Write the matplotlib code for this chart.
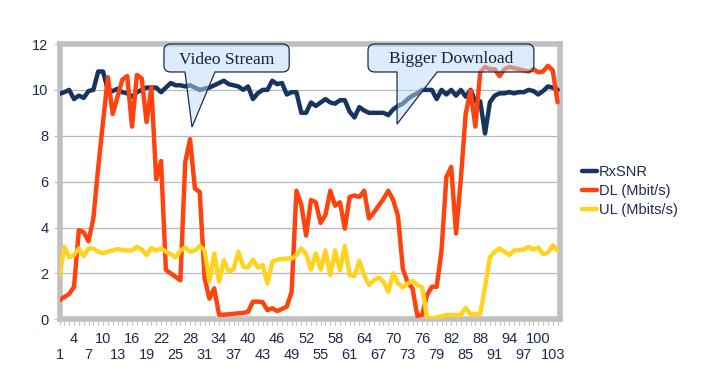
import matplotlib
matplotlib.use("Agg")
import matplotlib.pyplot as plt
from matplotlib.path import Path
from matplotlib.patches import PathPatch
from matplotlib.ticker import FixedLocator, FuncFormatter

# ---------------- data ----------------
categories = list(range(1, 105))
rxsnr = [
    9.83, 9.9, 10.0, 9.6, 9.75, 9.65, 9.95, 10.0, 10.8, 10.8,
    10.0, 9.95, 10.05, 9.9, 9.85, 9.7, 9.9, 10.0, 10.1, 10.1,
    10.1, 9.9, 10.1, 10.3, 10.2, 10.2, 10.15, 10.2, 10.1, 10.0,
    10.05, 10.1, 10.2, 10.3, 10.4, 10.25, 10.2, 10.15, 10.0, 10.15,
    9.6, 9.85, 10.0, 10.0, 10.4, 10.25, 10.3, 9.8, 9.9, 9.9,
    9.0, 9.0, 9.45, 9.3, 9.45, 9.6, 9.45, 9.4, 9.55, 9.55,
    9.05, 8.8, 9.25, 9.1, 9.0, 9.0, 9.0, 9.0, 8.9, 9.15,
    9.3, 9.4, 9.6, 9.75, 9.85, 10.0, 10.0, 10.0, 9.6, 10.0,
    9.8, 10.0, 9.75, 10.0, 9.7, 10.0, 9.5, 9.5, 8.1, 9.46,
    9.75, 9.85, 9.85, 9.9, 9.85, 9.9, 9.9, 10.0, 9.95, 9.8,
    9.95, 10.15, 10.1, 10.0,
]
dl = [
    0.84, 0.97, 1.1, 1.42, 3.88, 3.8, 3.4, 4.4, 6.6, 8.6,
    10.55, 8.95, 9.7, 10.45, 10.6, 8.4, 10.65, 10.5, 8.6, 10.1,
    6.1, 6.9, 2.15, 2.0, 1.85, 1.7, 6.85, 7.85, 5.7, 5.55,
    1.8, 0.9, 1.35, 0.2, 0.2, 0.22, 0.24, 0.26, 0.28, 0.33,
    0.77, 0.77, 0.75, 0.4, 0.48, 0.36, 0.45, 0.55, 1.2, 5.6,
    5.0, 3.65, 5.2, 5.1, 4.2, 4.55, 5.6, 4.95, 5.1, 3.95,
    5.33, 5.4, 5.33, 5.6, 4.4, 4.65, 4.95, 5.25, 5.6, 5.2,
    4.5, 2.2, 1.6, 1.35, 0.15, 0.2, 1.05, 1.42, 1.42, 3.0,
    6.2, 6.64, 3.74, 6.13, 8.96, 9.97, 8.4, 10.77, 11.0, 10.9,
    10.9, 10.6, 10.9, 11.0, 10.95, 10.9, 10.85, 10.8, 10.9, 10.77,
    10.8, 11.05, 10.85, 9.46,
]
ul = [
    1.93, 3.16, 2.7, 2.8, 3.09, 2.75, 3.09, 3.09, 2.95, 2.87,
    2.95, 3.0, 3.06, 3.02, 3.0, 3.0, 3.16, 3.05, 2.8, 3.1,
    3.0, 3.09, 2.95, 2.84, 2.7, 3.0, 3.13, 2.94, 3.0, 3.2,
    3.0, 1.64, 2.87, 1.64, 2.58, 2.07, 2.2, 2.94, 2.3, 2.26,
    2.6, 2.26, 2.36, 1.56, 2.5, 2.6, 2.62, 2.65, 2.65, 2.8,
    3.09, 2.84, 2.17, 2.87, 2.17, 3.0, 1.93, 3.0, 2.14, 3.19,
    1.93, 1.88, 2.55, 1.93, 1.5, 1.7, 1.83, 1.64, 1.2, 2.0,
    1.56, 1.39, 1.56, 1.68, 1.49, 1.39, 0.09, 0.04, 0.08, 0.12,
    0.19, 0.19, 0.19, 0.19, 0.5, 0.23, 0.23, 0.23, 1.4, 2.7,
    2.94, 3.09, 2.95, 2.8, 3.0, 3.02, 3.04, 3.16, 3.04, 3.13,
    2.84, 2.9, 3.23, 3.0,
]
series_names = ["RxSNR", "DL (Mbit/s)", "UL (Mbits/s)"]
lower_row_labels = list(range(1, 104, 6))   # 1, 7, 13, ... 103
upper_row_labels = list(range(4, 104, 6))   # 4, 10, 16, ... 100
y_ticks = [0, 2, 4, 6, 8, 10, 12]
callout_texts = ["Video Stream", "Bigger Download"]

# ---------------- style ----------------
W, H = 712, 381
NAVY = "#15345f"
ORANGE = "#ff420e"
YELLOW = "#ffd320"
TEXT = "#1c2b4c"
GRID = "#b8b8b8"
FRAME = "#c0c0c0"
plt.rcParams["font.family"] = ["Liberation Sans", "DejaVu Sans"]

fig = plt.figure(figsize=(W / 100, H / 100), dpi=100)
fig.patch.set_facecolor("white")
left_px, right_px, top_px, bottom_px = 59.5, 560.0, 44.0, 319.3
ax = fig.add_axes([left_px / W, (H - bottom_px) / H,
                   (right_px - left_px) / W, (bottom_px - top_px) / H])
ax.set_xlim(1, 104.5)
ax.set_ylim(0, 12)

for vals, col, name in zip([rxsnr, dl, ul], [NAVY, ORANGE, YELLOW], series_names):
    ax.plot(categories, vals, color=col, lw=3.2, solid_joinstyle="round",
            solid_capstyle="round", label=name, zorder=3)

# grid / frame
ax.set_yticks(y_ticks)
ax.yaxis.grid(True, color=GRID, lw=0.9)
ax.set_axisbelow(True)
for sp in ax.spines.values():
    sp.set_color(FRAME)
    sp.set_linewidth(4.0)
    sp.set_zorder(2.5)

ax.tick_params(axis="y", length=4, width=0.8, color=FRAME, labelsize=10.5,
               labelcolor=TEXT, pad=4)

# x axis: lower row on major ticks, upper row on minor ticks (every category)
ax.xaxis.set_major_locator(FixedLocator(lower_row_labels))
ax.xaxis.set_minor_locator(FixedLocator(categories))
ax.xaxis.set_major_formatter(FuncFormatter(lambda v, p: str(int(round(v)))))
ax.xaxis.set_minor_formatter(FuncFormatter(
    lambda v, p: str(int(round(v))) if int(round(v)) in upper_row_labels else ""))
ax.tick_params(axis="x", which="both", length=4.5, width=0.8, color=FRAME,
               labelsize=10.5, labelcolor=TEXT)
ax.tick_params(axis="x", which="minor", pad=5)
ax.tick_params(axis="x", which="major", pad=16)

# legend
leg = ax.legend(loc="upper left", bbox_to_anchor=(582 / W, 1 - 165 / H),
                bbox_transform=fig.transFigure, frameon=False, fontsize=10.5,
                handlelength=1.05, handletextpad=0.1, labelspacing=0.35,
                borderpad=0, borderaxespad=0)
for t in leg.get_texts():
    t.set_color(TEXT)


# callouts
def callout_path(x0, x1, y0, y1, bx0, bx1, tx, ty, rx=1.4, ry=0.28):
    verts = [
        (x0 + rx, y0), (bx0, y0), (tx, ty), (bx1, y0), (x1 - rx, y0),
        (x1, y0), (x1, y0 + ry),
        (x1, y1 - ry),
        (x1, y1), (x1 - rx, y1),
        (x0 + rx, y1),
        (x0, y1), (x0, y1 - ry),
        (x0, y0 + ry),
        (x0, y0), (x0 + rx, y0),
        (x0 + rx, y0),
    ]
    codes = [Path.MOVETO, Path.LINETO, Path.LINETO, Path.LINETO, Path.LINETO,
             Path.CURVE3, Path.CURVE3,
             Path.LINETO,
             Path.CURVE3, Path.CURVE3,
             Path.LINETO,
             Path.CURVE3, Path.CURVE3,
             Path.LINETO,
             Path.CURVE3, Path.CURVE3,
             Path.CLOSEPOLY]
    return Path(verts, codes)


boxes = [
    # x0, x1, y0, y1, base0, base1, tipx, tipy, text x, text y
    (22.6, 48.5, 10.78, 12.0, 26.95, 33.15, 28.4, 8.38, 35.5, 11.32),
    (64.8, 99.1, 10.78, 12.0, 70.8, 79.1, 70.8, 8.51, 81.9, 11.36),
]
for (x0, x1, y0, y1, b0, b1, tx, ty, lx, ly), txt in zip(boxes, callout_texts):
    p = callout_path(x0, x1, y0, y1, b0, b1, tx, ty)
    ax.add_patch(PathPatch(p, facecolor=(0.74, 0.86, 0.97, 0.5),
                           edgecolor="#1a2a50", lw=0.9, zorder=6, clip_on=False))
    ax.text(lx, ly, txt, family=["Liberation Serif", "DejaVu Serif"],
            fontsize=12.5, color="#1a1f3a", ha="center", va="center", zorder=7)

fig.savefig("out.png", dpi=100, facecolor="white")
